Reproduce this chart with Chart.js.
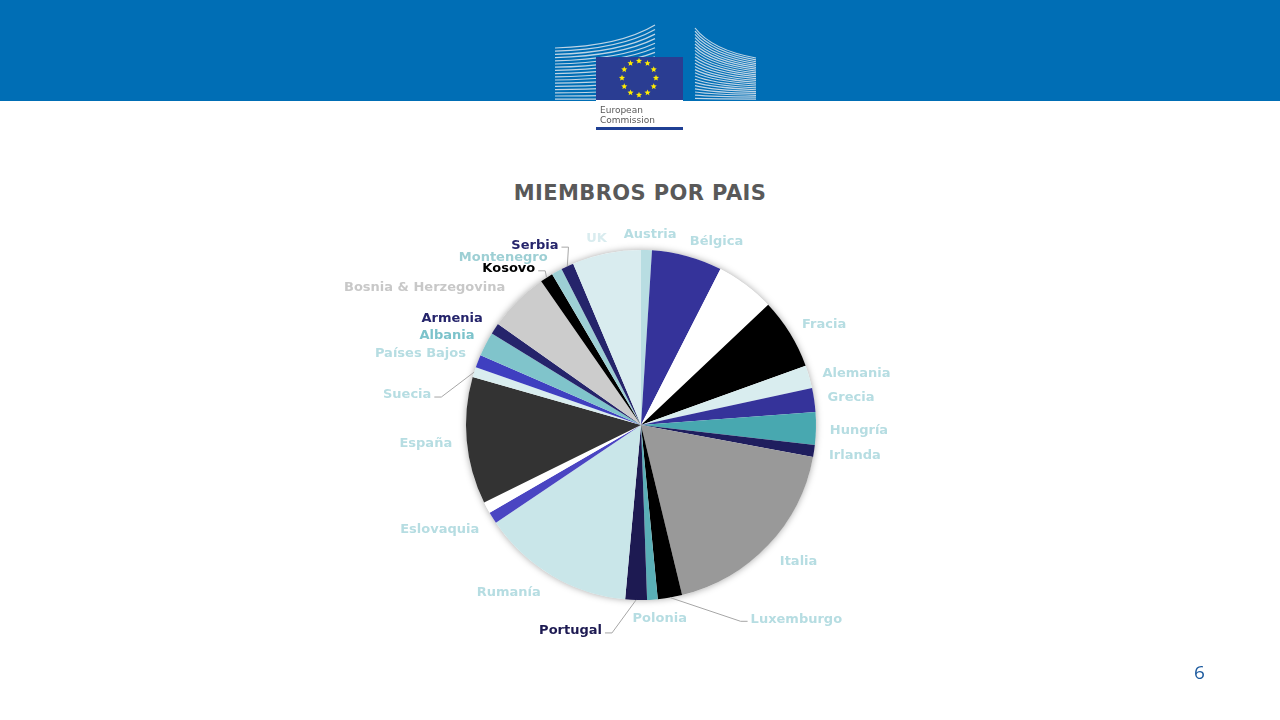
<!DOCTYPE html>
<html>
<head>
<meta charset="utf-8">
<script src="https://cdn.jsdelivr.net/npm/chart.js@4/dist/chart.umd.min.js"></script>
<style>
  html, body { margin: 0; padding: 0; background: #ffffff; }
  body { width: 1280px; height: 720px; position: relative; overflow: hidden; font-family: "DejaVu Sans", Verdana, sans-serif; }
  #header { position: absolute; left: 0; top: 0; width: 1280px; height: 101px; background: #006eb5; }
  #logo { position: absolute; left: 0; top: 0; }
  #title { position: absolute; left: 0; width: 1280px; top: 181px; text-align: center; font-weight: bold; font-size: 21px; color: #595959; letter-spacing: 0.4px; }
  #page { position: absolute; left: 1194px; top: 659px; font-size: 19px; color: #1c5a9e; font-family: "Open Sans", "DejaVu Sans", sans-serif; }
  #chart { position: absolute; left: 0; top: 0; }
</style>
</head>
<body>
<div id="header"></div>
<canvas id="logo" width="1280" height="140"></canvas>
<div id="title">MIEMBROS POR PAIS</div>
<canvas id="chart" width="1280" height="720"></canvas>
<div id="page">6</div>
<script>
// data (slice sizes, in degrees of the pie)
const countries = ['Austria', 'Bélgica', '', 'Fracia', 'Alemania', 'Grecia', 'Hungría', 'Irlanda',
  'Italia', 'Luxemburgo', 'Polonia', 'Portugal', 'Rumanía', 'Eslovaquia', '', 'España', 'Suecia',
  'Países Bajos', 'Albania', 'Armenia', 'Bosnia & Herzegovina', 'Kosovo', 'Montenegro', 'Serbia', 'UK'];
const members = [3.6, 23.4, 19.6, 23.6, 7.6, 7.9, 10.9, 3.9, 65.9, 8.1, 3.5, 7.2, 50.8, 3.9, 3.8,
  42.2, 3.4, 4.2, 8.0, 3.7, 20.0, 4.3, 3.5, 4.2, 22.8];

const sliceColors = ['#b8dde2', '#35339a', '#ffffff', '#000000', '#d9edef', '#35339a', '#48a8b0', '#1f1e5e',
  '#999999', '#000000', '#5aafb7', '#1d1a52', '#c9e6e9', '#4a45c2', '#ffffff', '#333333', '#d9edef',
  '#3f3fc0', '#80c4cb', '#25246b', '#cccccc', '#000000', '#9dcfd4', '#25246b', '#d9ecef'];
const LIGHT = '#b6dde2';
const labelColors = [LIGHT, LIGHT, '#ffffff', LIGHT, LIGHT, LIGHT, LIGHT, LIGHT, LIGHT, LIGHT, LIGHT,
  '#1d1a52', LIGHT, LIGHT, '#ffffff', LIGHT, LIGHT, LIGHT, '#7cc3cb', '#25246b', '#c8c8c8', '#000000',
  '#9dcfd4', '#25246b', '#d9ecef'];

// label layout: shift from the point 20px outside the slice middle, and which ones get a leader line
const labelNudge = [[3, 5], [24, 5], [0, 0], [17, 2], [28, 2], [17, 1], [23, 2], [21, 2], [16, 3],
  [123, 2], [6, -1], [-65, 11], [-33, 0], [-36, 1], [0, 0], [-21, 1], [-48, 29], [-39, 0],
  [-21, 1], [-26, 1], [-79, 1], [-27, 8], [-44, 4], [-24, -3], [-6, 5]];
const leader = [9, 11, 16, 21, 23];

// the European Commission logo in the header
(function drawLogo() {
  const c = document.getElementById('logo').getContext('2d');
  c.strokeStyle = 'rgba(225,232,238,0.85)';
  c.lineWidth = 1.2;
  // left building
  for (let y = 48; y < 100; y += 3.2) {
    const t = (y - 48) / 52;
    c.beginPath();
    c.moveTo(555, y);
    c.quadraticCurveTo(620, y - 2 * (1 - t), 655, y - 22 * (1 - t) - 1);
    c.stroke();
  }
  // right building
  for (let y = 28; y < 100; y += 3.2) {
    const t = (y - 28) / 72;
    c.beginPath();
    c.moveTo(695, y);
    c.quadraticCurveTo(712, y + 22 * (1 - t), 756, y + 30 * (1 - t));
    c.stroke();
  }
  c.fillStyle = '#2a3d92';
  c.fillRect(596, 57, 87, 43);
  c.fillStyle = '#ffffff';
  c.fillRect(596, 100, 87, 40);
  c.fillStyle = '#ffec00';
  for (let i = 0; i < 12; i++) {
    const a = i * Math.PI / 6;
    const sx = 639 + 17 * Math.sin(a), sy = 78 - 17 * Math.cos(a);
    c.beginPath();
    for (let k = 0; k < 10; k++) {
      const rr = k % 2 ? 1.4 : 3.2;
      const aa = k * Math.PI / 5;
      c.lineTo(sx + rr * Math.sin(aa), sy - rr * Math.cos(aa));
    }
    c.closePath();
    c.fill();
  }
  c.fillStyle = '#5a5a5a';
  c.font = '9px "DejaVu Sans", sans-serif';
  c.fillText('European', 600, 113);
  c.fillText('Commission', 600, 123);
  c.fillStyle = '#1f3f94';
  c.fillRect(596, 127, 87, 3);
})();

const pieShadow = {
  id: 'pieShadow',
  beforeDatasetsDraw(chart) {
    const arc = chart.getDatasetMeta(0).data[0];
    const ctx = chart.ctx;
    ctx.save();
    ctx.shadowColor = 'rgba(0,0,0,0.35)';
    ctx.shadowBlur = 7;
    ctx.fillStyle = '#ffffff';
    ctx.beginPath();
    ctx.arc(arc.x, arc.y, arc.outerRadius, 0, Math.PI * 2);
    ctx.fill();
    ctx.restore();
  }
};

const sliceLabels = {
  id: 'sliceLabels',
  afterDatasetsDraw(chart) {
    const ctx = chart.ctx;
    ctx.save();
    ctx.font = 'bold 13px "DejaVu Sans", Verdana, sans-serif';
    ctx.textAlign = 'center';
    ctx.textBaseline = 'middle';
    chart.getDatasetMeta(0).data.forEach((arc, i) => {
      const text = countries[i];
      if (!text) return;
      const mid = (arc.startAngle + arc.endAngle) / 2;
      const dx = Math.cos(mid), dy = Math.sin(mid);
      const lx = arc.x + (arc.outerRadius + 20) * dx + labelNudge[i][0];
      const ly = arc.y + (arc.outerRadius + 20) * dy + labelNudge[i][1];
      const w = ctx.measureText(text).width;
      if (leader.includes(i)) {
        const side = lx > arc.x + (arc.outerRadius + 20) * dx ? -1 : 1;
        const edge = lx + side * w / 2;
        ctx.strokeStyle = '#a6a6a6';
        ctx.lineWidth = 1;
        ctx.beginPath();
        ctx.moveTo(arc.x + arc.outerRadius * dx, arc.y + arc.outerRadius * dy);
        ctx.lineTo(edge + side * 10, ly + 2);
        ctx.lineTo(edge + side * 3, ly + 2);
        ctx.stroke();
      }
      ctx.fillStyle = labelColors[i];
      ctx.fillText(text, lx, ly);
    });
    ctx.restore();
  }
};

new Chart(document.getElementById('chart'), {
  type: 'pie',
  data: {
    labels: countries,
    datasets: [{
      data: members,
      backgroundColor: sliceColors,
      borderWidth: 0,
      hoverOffset: 0
    }]
  },
  options: {
    responsive: false,
    animation: false,
    layout: { padding: { left: 466, right: 464, top: 250, bottom: 120 } },
    plugins: {
      legend: { display: false },
      tooltip: { enabled: false }
    }
  },
  plugins: [pieShadow, sliceLabels]
});
</script>
</body>
</html>
